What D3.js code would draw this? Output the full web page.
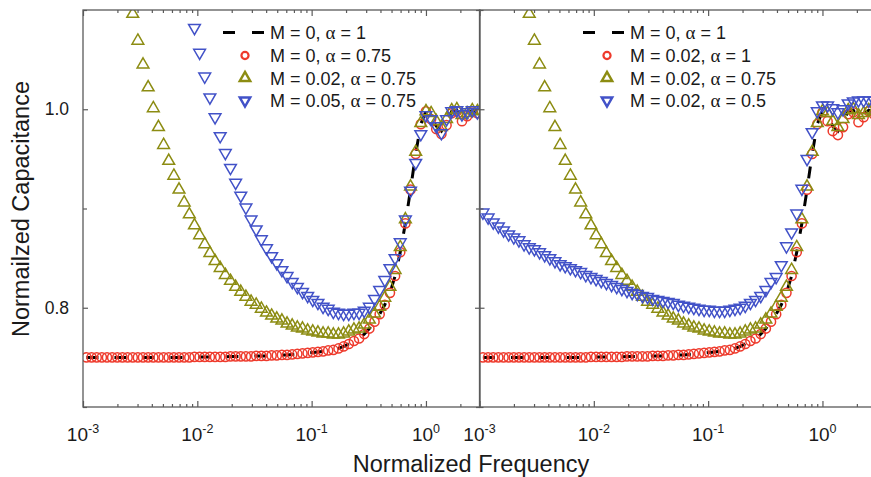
<!DOCTYPE html>
<html>
<head>
<meta charset="utf-8">
<script src="https://cdn.jsdelivr.net/npm/d3@7"></script>
<style>
  html, body { margin: 0; padding: 0; background: #fff; }
  svg { display: block; }
  text { font-family: "Liberation Sans", Arial, sans-serif; fill: #1a1a1a; }
</style>
</head>
<body>
<svg id="chart" width="871" height="477"></svg>
<script>
// ---------------- DATA ----------------
// Normalized frequency (log spaced samples)
const freq = [
  0.001072, 0.001189, 0.001318, 0.001462, 0.001622, 0.001799, 0.001995, 0.002213, 0.002455, 0.002723,
  0.003020, 0.003350, 0.003715, 0.004121, 0.004571, 0.005070, 0.005623, 0.006237, 0.006918, 0.007674,
  0.008511, 0.009441, 0.01047, 0.01161, 0.01288, 0.01429, 0.01585, 0.01758, 0.01950, 0.02163,
  0.02399, 0.02661, 0.02951, 0.03273, 0.03631, 0.04027, 0.04467, 0.04955, 0.05495, 0.06095,
  0.06761, 0.07499, 0.08318, 0.09226, 0.1023, 0.1135, 0.1259, 0.1396, 0.1549, 0.1718,
  0.1905, 0.2113, 0.2344, 0.2600, 0.2884, 0.3199, 0.3548, 0.3936, 0.4365, 0.4842,
  0.5370, 0.5957, 0.6607, 0.7328, 0.8128, 0.9016, 1.000, 1.109, 1.230, 1.365,
  1.514, 1.679, 1.862, 2.065, 2.291, 2.541, 2.818
];

// M = 0, alpha = 1 (dashed black line)
const capM0a1 = [
  0.750, 0.750, 0.750, 0.750, 0.750, 0.750, 0.750, 0.750, 0.750, 0.750,
  0.750, 0.750, 0.750, 0.750, 0.750, 0.750, 0.750, 0.750, 0.750, 0.750,
  0.750, 0.7505, 0.7505, 0.7505, 0.7505, 0.7505, 0.7505, 0.7505, 0.751, 0.751,
  0.751, 0.751, 0.751, 0.7515, 0.7515, 0.7515, 0.752, 0.752, 0.7525, 0.7525,
  0.753, 0.7535, 0.754, 0.7545, 0.755, 0.7555, 0.756, 0.757, 0.7575, 0.759,
  0.761, 0.7635, 0.7665, 0.769, 0.7735, 0.779, 0.786, 0.7935, 0.803, 0.815,
  0.832, 0.856, 0.885, 0.919, 0.955, 0.985, 0.998, 0.992, 0.983, 0.978,
  0.987, 0.998, 0.999, 0.991, 0.995, 0.999, 0.997
];

// M = 0, alpha = 0.75 (red circles, left panel)
const capM0a075 = [
  0.750, 0.750, 0.750, 0.750, 0.750, 0.750, 0.750, 0.750, 0.750, 0.750,
  0.750, 0.750, 0.750, 0.750, 0.750, 0.750, 0.750, 0.750, 0.750, 0.750,
  0.750, 0.7505, 0.7505, 0.7505, 0.7505, 0.7505, 0.7505, 0.7505, 0.751, 0.751,
  0.751, 0.751, 0.751, 0.7515, 0.7515, 0.7515, 0.752, 0.752, 0.7525, 0.7525,
  0.753, 0.7535, 0.754, 0.7545, 0.755, 0.7555, 0.756, 0.757, 0.7575, 0.759,
  0.761, 0.7635, 0.7665, 0.769, 0.7735, 0.779, 0.786, 0.7935, 0.803, 0.815,
  0.832, 0.856, 0.885, 0.919, 0.955, 0.985, 0.998, 0.990, 0.980, 0.975,
  0.984, 0.996, 0.998, 0.988, 0.993, 0.998, 0.996
];

// M = 0.02, alpha = 1 (red circles, right panel)
const capM002a1 = [
  0.750, 0.750, 0.750, 0.750, 0.750, 0.750, 0.750, 0.750, 0.750, 0.750,
  0.750, 0.750, 0.750, 0.750, 0.750, 0.750, 0.750, 0.750, 0.750, 0.750,
  0.750, 0.7505, 0.7505, 0.7505, 0.7505, 0.7505, 0.7505, 0.7505, 0.751, 0.751,
  0.751, 0.751, 0.751, 0.7515, 0.7515, 0.7515, 0.752, 0.752, 0.7525, 0.7525,
  0.753, 0.7535, 0.754, 0.7545, 0.755, 0.7555, 0.756, 0.757, 0.7575, 0.759,
  0.761, 0.7635, 0.7665, 0.769, 0.7735, 0.779, 0.786, 0.7935, 0.803, 0.815,
  0.832, 0.856, 0.885, 0.919, 0.955, 0.985, 0.997, 0.988, 0.978, 0.974,
  0.982, 0.995, 0.997, 0.987, 0.992, 0.998, 0.995
];

// M = 0.02, alpha = 0.75 (olive up-triangles, both panels)
const capM002a075 = [
  1.459, 1.405, 1.354, 1.308, 1.266, 1.226, 1.189, 1.156, 1.125, 1.096,
  1.069, 1.045, 1.022, 1.001, 0.982, 0.964, 0.948, 0.933, 0.919, 0.906,
  0.894, 0.883, 0.873, 0.864, 0.855, 0.847, 0.840, 0.833, 0.827, 0.821,
  0.816, 0.811, 0.806, 0.803, 0.799, 0.795, 0.792, 0.789, 0.787, 0.784,
  0.782, 0.780, 0.779, 0.777, 0.776, 0.775, 0.774, 0.774, 0.773, 0.773,
  0.774, 0.776, 0.778, 0.779, 0.783, 0.788, 0.794, 0.801, 0.810, 0.821,
  0.838, 0.861, 0.889, 0.922, 0.957, 0.986, 0.998, 0.996, 0.988, 0.982,
  0.990, 0.999, 1.000, 0.994, 0.996, 0.999, 0.998
];

// M = 0.05, alpha = 0.75 (blue down-triangles, left panel)
const capM005a075 = [
  2.523, 2.387, 2.261, 2.145, 2.039, 1.940, 1.848, 1.764, 1.687, 1.615,
  1.548, 1.487, 1.430, 1.378, 1.330, 1.286, 1.245, 1.207, 1.172, 1.139,
  1.110, 1.082, 1.057, 1.033, 1.012, 0.992, 0.973, 0.956, 0.941, 0.926,
  0.913, 0.901, 0.889, 0.879, 0.869, 0.860, 0.852, 0.845, 0.838, 0.832,
  0.826, 0.821, 0.816, 0.812, 0.808, 0.805, 0.801, 0.799, 0.796, 0.795,
  0.794, 0.794, 0.795, 0.795, 0.797, 0.801, 0.809, 0.818, 0.828, 0.840,
  0.850, 0.866, 0.889, 0.918, 0.946, 0.975, 0.994, 0.990, 0.983, 0.976,
  0.990, 0.998, 0.999, 0.995, 0.997, 0.999, 0.997
];

// M = 0.02, alpha = 0.5 (blue down-triangles, right panel)
const capM002a05 = [
  0.896, 0.891, 0.886, 0.882, 0.878, 0.874, 0.871, 0.868, 0.864, 0.861,
  0.859, 0.856, 0.853, 0.850, 0.847, 0.844, 0.842, 0.840, 0.838, 0.836,
  0.833, 0.831, 0.829, 0.827, 0.825, 0.823, 0.821, 0.819, 0.817, 0.815,
  0.814, 0.812, 0.811, 0.809, 0.808, 0.807, 0.806, 0.805, 0.803, 0.802,
  0.801, 0.800, 0.799, 0.798, 0.798, 0.797, 0.797, 0.797, 0.798, 0.799,
  0.800, 0.802, 0.805, 0.808, 0.812, 0.818, 0.826, 0.831, 0.843, 0.862,
  0.876, 0.895, 0.920, 0.950, 0.977, 0.998, 1.004, 1.004, 1.001, 0.997,
  1.000, 1.006, 1.008, 1.009, 1.009, 1.009, 1.009
];

const xMajorTicks = [0.001, 0.01, 0.1, 1];
const xTickExponents = ["-3", "-2", "-1", "0"];
const yMajorTicks = [0.8, 1.0];
const yTickLabels = ["0.8", "1.0"];
const yMinorTicks = [0.7, 0.9, 1.1];

const leftLegend = ["M = 0, |α| = 1", "M = 0, |α| = 0.75", "M = 0.02, |α| = 0.75", "M = 0.05, |α| = 0.75"];
const rightLegend = ["M = 0, |α| = 1", "M = 0.02, |α| = 1", "M = 0.02, |α| = 0.75", "M = 0.02, |α| = 0.5"];

// ---------------- LAYOUT / STYLE ----------------
const W = 871, H = 477;
const plotTop = 10, plotBottom = 407;
const xDomain = [0.001, 2.97];
const yDomain = [0.7, 1.1];
const colors = { red: "#ee3a2c", olive: "#8c8c12", blue: "#4252c8", line: "#000" };
const frameColor = "#5a5a5a";

const panels = [
  { x0: 83, x1: 480, line: capM0a1, red: capM0a075, olive: capM002a075, blue: capM005a075,
    legend: leftLegend, lg: { l0: 223, l1: 267, mx: 245, tx: 270 } },
  { x0: 479.5, x1: 876.5, line: capM0a1, red: capM002a1, olive: capM002a075, blue: capM002a05,
    legend: rightLegend, lg: { l0: 583, l1: 627, mx: 607, tx: 630 } }
];

const svg = d3.select("#chart");
svg.append("rect").attr("width", W).attr("height", H).attr("fill", "#fff");
const defs = svg.append("defs");

const y = d3.scaleLinear().domain(yDomain).range([plotBottom, plotTop]);

const minorX = [];
xMajorTicks.forEach(d => { for (let m = 2; m <= 9; m++) { const v = d * m; if (v <= xDomain[1]) minorX.push(v); } });

const triUp = d3.symbol().type(d3.symbolTriangle).size(60)();
const circ = d3.symbol().type(d3.symbolCircle).size(66)();

panels.forEach((p, pi) => {
  const x = d3.scaleLog().domain(xDomain).range([p.x0, p.x1]);
  const cid = "clip" + pi;
  defs.append("clipPath").attr("id", cid).append("rect")
    .attr("x", p.x0).attr("y", plotTop).attr("width", p.x1 - p.x0).attr("height", plotBottom - plotTop);

  const g = svg.append("g");
  const data = g.append("g").attr("clip-path", `url(#${cid})`);

  // dashed line
  const pts = freq.map((f, i) => [f, p.line[i]]);
  data.append("path")
    .attr("d", d3.line().x(d => x(d[0])).y(d => y(d[1]))(pts))
    .attr("fill", "none").attr("stroke", colors.line)
    .attr("stroke-width", 3).attr("stroke-dasharray", "12,16");

  // red circles
  data.append("g").selectAll("path").data(freq.map((f, i) => [f, p.red[i]])).join("path")
    .attr("d", circ).attr("transform", d => `translate(${x(d[0])},${y(d[1])})`)
    .attr("fill", "none").attr("stroke", colors.red).attr("stroke-width", 1.5);
  // olive up triangles
  data.append("g").selectAll("path").data(freq.map((f, i) => [f, p.olive[i]])).join("path")
    .attr("d", triUp).attr("transform", d => `translate(${x(d[0])},${y(d[1])})`)
    .attr("fill", "none").attr("stroke", colors.olive).attr("stroke-width", 1.5);
  // blue down triangles
  data.append("g").selectAll("path").data(freq.map((f, i) => [f, p.blue[i]])).join("path")
    .attr("d", triUp).attr("transform", d => `translate(${x(d[0])},${y(d[1])}) rotate(180)`)
    .attr("fill", "none").attr("stroke", colors.blue).attr("stroke-width", 1.5);

  // axes ticks (inward)
  const axG = g.append("g");
  const styleAxis = sel => { sel.select(".domain").remove(); sel.selectAll("line").attr("stroke", frameColor).attr("stroke-width", 1.2); };
  axG.append("g").attr("transform", `translate(0,${plotBottom})`)
    .call(d3.axisBottom(x).tickValues(xMajorTicks).tickSize(-6).tickSizeOuter(0).tickFormat(() => "")).call(styleAxis);
  axG.append("g").attr("transform", `translate(0,${plotBottom})`)
    .call(d3.axisBottom(x).tickValues(minorX).tickSize(-3).tickSizeOuter(0).tickFormat(() => "")).call(styleAxis);
  axG.append("g").attr("transform", `translate(0,${plotTop})`)
    .call(d3.axisTop(x).tickValues(xMajorTicks).tickSize(-6).tickSizeOuter(0).tickFormat(() => "")).call(styleAxis);
  axG.append("g").attr("transform", `translate(0,${plotTop})`)
    .call(d3.axisTop(x).tickValues(minorX).tickSize(-3).tickSizeOuter(0).tickFormat(() => "")).call(styleAxis);
  axG.append("g").attr("transform", `translate(${p.x0},0)`)
    .call(d3.axisLeft(y).tickValues(yMajorTicks).tickSize(-5).tickSizeOuter(0).tickFormat(() => "")).call(styleAxis);
  axG.append("g").attr("transform", `translate(${p.x0},0)`)
    .call(d3.axisLeft(y).tickValues(yMinorTicks).tickSize(-4).tickSizeOuter(0).tickFormat(() => "")).call(styleAxis);
  axG.append("g").attr("transform", `translate(${p.x1},0)`)
    .call(d3.axisRight(y).tickValues(yMajorTicks).tickSize(-5).tickSizeOuter(0).tickFormat(() => "")).call(styleAxis);
  axG.append("g").attr("transform", `translate(${p.x1},0)`)
    .call(d3.axisRight(y).tickValues(yMinorTicks).tickSize(-4).tickSizeOuter(0).tickFormat(() => "")).call(styleAxis);

  // frame
  g.append("rect").attr("x", p.x0).attr("y", plotTop).attr("width", p.x1 - p.x0).attr("height", plotBottom - plotTop)
    .attr("fill", "none").attr("stroke", frameColor).attr("stroke-width", 1.3);

  // x tick labels
  xMajorTicks.forEach((t, i) => {
    const tx = g.append("text").attr("x", x(t)).attr("y", 441).attr("text-anchor", "middle")
      .attr("font-size", 19);
    tx.append("tspan").text("10");
    tx.append("tspan").attr("font-size", 12.5).attr("dy", -8).text(xTickExponents[i]);
  });

  // y tick labels (left panel only)
  if (pi === 0) {
    yMajorTicks.forEach((t, i) => {
      g.append("text").attr("x", 69).attr("y", y(t) + 6).attr("text-anchor", "end")
        .attr("font-size", 17.5).text(yTickLabels[i]);
    });
  }

  // legend
  const L = p.lg;
  const rows = [32.5, 55.5, 78, 100.5];
  g.append("line").attr("x1", L.l0).attr("x2", L.l1).attr("y1", rows[0]).attr("y2", rows[0])
    .attr("stroke", "#000").attr("stroke-width", 3).attr("stroke-dasharray", "12,17");
  g.append("path").attr("d", d3.symbol().type(d3.symbolCircle).size(40)())
    .attr("transform", `translate(${L.mx},${rows[1]})`).attr("fill", "none")
    .attr("stroke", colors.red).attr("stroke-width", 2.2);
  g.append("path").attr("d", d3.symbol().type(d3.symbolTriangle).size(48)())
    .attr("transform", `translate(${L.mx},${rows[2]})`).attr("fill", "none")
    .attr("stroke", colors.olive).attr("stroke-width", 2.4);
  g.append("path").attr("d", d3.symbol().type(d3.symbolTriangle).size(48)())
    .attr("transform", `translate(${L.mx},${rows[3]}) rotate(180)`).attr("fill", "none")
    .attr("stroke", colors.blue).attr("stroke-width", 2.4);
  p.legend.forEach((lab, i) => {
    const parts = lab.split("|");
    const t = g.append("text").attr("x", L.tx).attr("y", rows[i] + 6.5).attr("font-size", 18);
    t.append("tspan").text(parts[0]);
    t.append("tspan").attr("font-family", "'Liberation Serif', 'DejaVu Serif', serif").attr("font-size", 19).text(parts[1]);
    t.append("tspan").text(parts[2]);
  });
});

// axis titles
svg.append("text").attr("x", 471).attr("y", 472).attr("text-anchor", "middle")
  .attr("font-size", 23.5).text("Normalized Frequency");
svg.append("text").attr("transform", "translate(29,209) rotate(-90)").attr("text-anchor", "middle")
  .attr("font-size", 23.5).text("Normailzed Capacitance");
</script>
</body>
</html>
